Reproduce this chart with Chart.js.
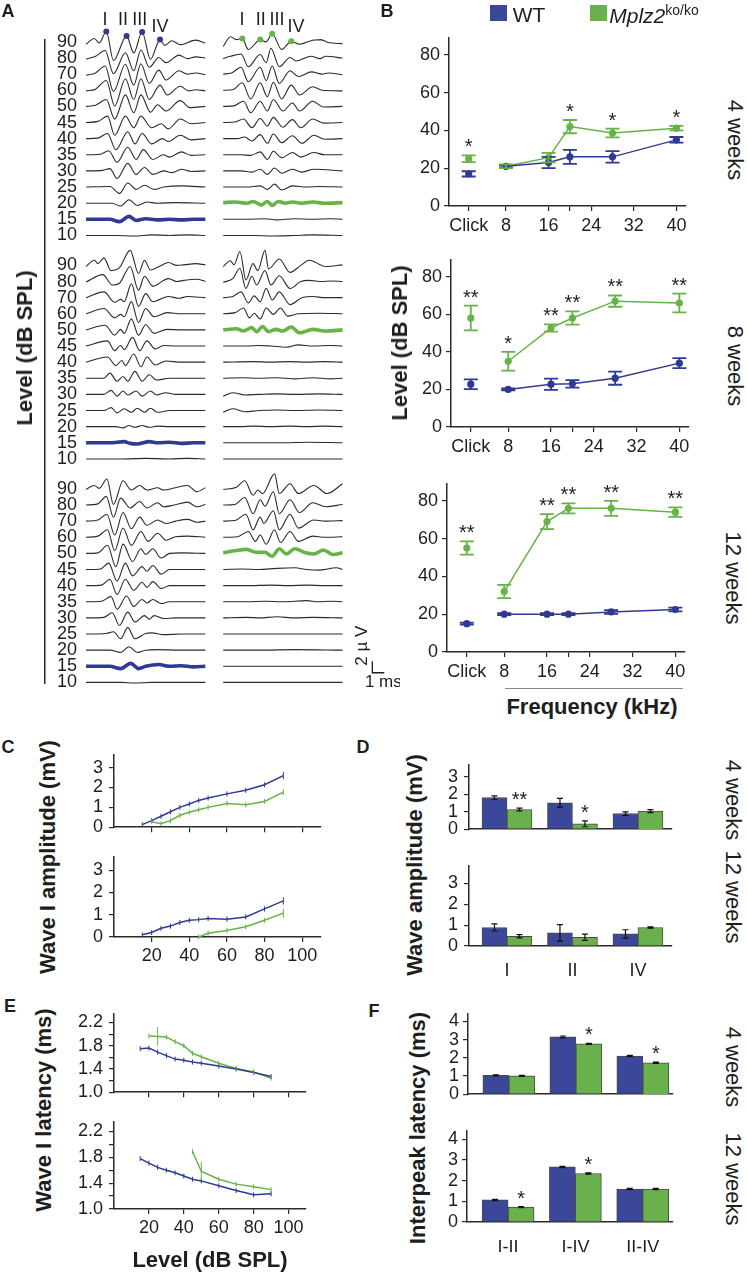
<!DOCTYPE html>
<html>
<head>
<meta charset="utf-8">
<script src="https://cdn.jsdelivr.net/npm/chart.js@4.4.1/dist/chart.umd.min.js"></script>
<style>
  body { margin: 0; width: 747px; height: 1274px; background: #fff; position: relative; overflow: hidden;
         font-family: "Liberation Sans", Arial, sans-serif; color: #1e1e1e; }
  canvas { position: absolute; }
  .lbl { position: absolute; white-space: nowrap; line-height: 1; }
  .sq { position: absolute; width: 17px; height: 16px; }
</style>
</head>
<body>
<script>
// ---------- colours / fonts ----------
const FONT = '"Liberation Sans", Arial, sans-serif';
const BLUE = '#2f3a94', GREEN = '#67b347';
const BLUE_BAR = '#3b4799', GREEN_BAR = '#6ab04d';
const INK = '#1e1e1e', AXIS = '#2a2a2a', TRACE = '#2b2b2b';

// ---------- panel A: ABR traces, [time ms, amplitude uV] extrema ----------
const LEVELS_A = [90, 80, 70, 60, 50, 45, 40, 35, 30, 25, 20, 15, 10];
const A4_WT = [
  [[0,-0.4],[0.7,0.6],[1.1,-0.2],[1.7,1.8],[2.3,-3.2],[3.4,1.0],[4.0,-1.9],[4.7,1.7],[5.4,-3.0],[6.2,0.4],[6.6,-0.6],[7.2,0.2],[7.9,-0.5],[9.2,0.3],[10,-0.2]],
  [[0,-0.2],[0.8,0.3],[1.6,1.3],[2.3,-2.7],[3.3,0.9],[4.0,-2.2],[4.6,1.4],[5.3,-1.6],[6.1,0.1],[6.7,-0.8],[7.8,0.5],[8.5,-0.1],[9.2,0.2],[10,0]],
  [[0,-0.2],[0.8,0.2],[1.6,1.4],[2.3,-3.0],[3.3,1.7],[4.0,-1.9],[4.6,1.8],[5.3,-1.6],[6.1,0.7],[6.7,-1.0],[7.8,0.6],[8.5,0],[9.2,0.2],[10,-0.1]],
  [[0,-0.1],[0.8,0.2],[1.7,1.7],[2.4,-2.7],[3.3,2.0],[4.0,-1.6],[4.6,2.0],[5.3,-1.6],[6.2,0.9],[6.8,-0.8],[7.9,0.7],[8.6,-0.1],[9.2,0.1],[10,-0.1]],
  [[0,0],[0.8,0.2],[1.7,1.2],[2.4,-2.2],[3.3,2.0],[4.0,-1.1],[4.6,2.0],[5.4,-1.0],[6.0,0.3],[6.7,-0.8],[7.9,1.0],[8.7,-0.2],[10,0]],
  [[0,0],[1.0,0.2],[1.8,1.1],[2.4,-2.2],[3.3,1.1],[4.0,-0.9],[4.6,1.1],[5.5,-0.9],[6.3,-0.2],[6.9,-1.1],[7.9,0.6],[8.8,-0.2],[10,0]],
  [[0,0],[1.0,0.1],[1.8,0.9],[2.5,-1.9],[3.5,1.2],[4.1,-0.9],[4.7,0.9],[5.5,-0.9],[6.4,0],[6.9,-0.5],[7.9,0.6],[8.8,-0.2],[10,0]],
  [[0,0],[1.2,0.1],[1.9,0.7],[2.6,-1.3],[3.5,1.3],[4.2,-0.8],[4.8,0.9],[5.6,-0.8],[6.5,0],[7.0,-0.4],[8.0,0.5],[8.8,-0.1],[10,0]],
  [[0,0],[1.4,0.1],[2.0,0.4],[2.6,-1.3],[3.5,1.3],[4.2,-0.6],[4.9,0.6],[5.6,-0.6],[6.5,0],[7.2,-0.3],[8.0,0.3],[8.8,-0.1],[10,0]],
  [[0,0],[2.0,0.1],[2.8,-1.1],[3.5,0.7],[4.2,-0.4],[4.9,0.3],[5.7,-0.4],[6.5,0],[8.0,0.2],[10,0]],
  [[0,0],[2.2,0],[2.9,-0.5],[3.6,0.6],[4.3,-0.4],[5.1,0.2],[6.0,0],[7.5,0.1],[10,0]],
  [[0,0],[2.0,0],[2.8,-0.4],[3.6,0.5],[4.2,-0.2],[5.0,0.1],[6.0,-0.1],[7.0,0],[8.0,-0.1],[9.0,0],[10,0]],
  [[0,0],[2.5,0],[4.0,-0.1],[5.5,0.1],[7.0,0],[8.5,0.1],[10,0]]
];
const A4_KO = [
  [[0,-0.8],[0.6,0.9],[1.1,0.4],[1.6,0.6],[2.1,-1.3],[3.1,0.4],[3.6,0],[4.1,1.4],[4.9,-1.3],[5.7,0.1],[6.4,-0.4],[7.5,0.3],[8.2,0.4],[8.8,-0.1],[10,-0.3]],
  [[0,-0.1],[0.6,0.3],[1.5,0.7],[2.1,-1.5],[3.1,0.6],[3.6,-0.8],[4.0,1.7],[4.7,-1.5],[5.6,0.1],[6.1,-0.5],[7.4,0.3],[8.1,-0.1],[8.6,0.3],[10,0]],
  [[0,0],[0.7,0.2],[1.5,1.2],[2.1,-1.3],[3.1,1.2],[3.6,-1.1],[4.1,1.4],[4.7,-1.6],[5.6,0.6],[6.3,-0.4],[7.4,0.4],[8.3,0],[8.8,0.2],[10,-0.1]],
  [[0,0],[0.8,0.1],[1.6,1.3],[2.3,-1.5],[3.1,1.3],[3.7,-1.1],[4.2,1.4],[4.9,-1.5],[5.7,0.9],[6.4,-0.8],[7.5,0.6],[8.3,0],[10,-0.1]],
  [[0,0],[0.9,0.1],[1.7,0.9],[2.3,-1.1],[3.1,0.9],[3.7,-0.8],[4.2,1.2],[5.0,-0.8],[5.8,0.6],[6.4,-0.8],[7.5,0.9],[8.4,-0.1],[10,0]],
  [[0,0],[1.0,0.1],[1.7,0.6],[2.4,-0.9],[3.1,0.7],[3.7,-0.6],[4.2,0.9],[5.0,-0.8],[5.8,0.5],[6.5,-0.9],[7.5,0.6],[8.4,-0.1],[10,0]],
  [[0,0],[1.2,0],[1.8,0.3],[2.4,-0.4],[3.1,0.7],[3.7,-0.8],[4.2,0.8],[4.9,-0.7],[5.8,0.5],[6.6,-0.8],[7.6,0.6],[8.5,-0.1],[10,0]],
  [[0,0],[1.5,0],[2.3,-0.1],[3.1,0.5],[3.7,-0.8],[4.2,0.6],[4.9,-0.5],[5.8,0.4],[6.5,-0.4],[7.6,0.4],[8.5,0],[10,0]],
  [[0,0],[1.5,0],[2.4,-0.2],[3.1,0.3],[3.7,-0.6],[4.3,0.5],[4.9,-0.4],[5.8,0.3],[6.6,-0.2],[7.6,0.3],[10,0]],
  [[0,0],[2.0,0],[3.1,0.2],[3.7,-0.4],[4.3,0.5],[4.9,-0.5],[5.8,0.2],[7.0,0],[8.0,0.1],[10,0]],
  [[0,0.1],[1.0,0.2],[2.0,0],[2.5,0.3],[3.2,-0.3],[3.7,0.3],[4.1,-0.4],[4.6,0.3],[5.2,0],[5.8,0.2],[6.5,0],[7.5,0.2],[8.5,0],[10,0.1]],
  [[0,0],[2.0,0],[3.5,0.1],[4.5,-0.1],[6,0.1],[7.5,0],[9,0.1],[10,0]],
  [[0,0],[2.5,0],[4.2,-0.1],[6,0],[7.5,0.1],[10,0]]
];
const A8_WT = [
  [[0,-0.2],[0.7,0.9],[1.0,0.3],[1.5,1.3],[2.1,-0.9],[2.8,-0.4],[3.7,2.6],[4.4,-1.4],[4.9,0.9],[5.4,-0.8],[6.3,0],[6.9,0.5],[7.6,0],[8.2,0.1],[9.2,0.3],[10,0.1]],
  [[0,-0.1],[1.4,1.2],[2.2,-0.6],[2.8,-0.3],[3.7,2.6],[4.4,-1.5],[4.9,0.9],[5.6,-0.8],[6.9,0.5],[7.6,0],[8.2,0.2],[9.3,0.4],[10,0]],
  [[0,0],[1.5,1.0],[2.4,-0.8],[2.9,-0.3],[3.2,-0.7],[3.8,2.4],[4.4,-1.5],[5.0,0.7],[5.6,-0.7],[6.9,0.2],[7.8,-0.1],[8.5,0.2],[10,0]],
  [[0,0],[1.5,0.9],[2.4,-0.7],[2.9,-0.1],[3.2,-0.5],[3.8,2.1],[4.4,-1.5],[5.0,0.9],[5.7,-0.5],[6.8,0.2],[8,0],[10,0]],
  [[0,0],[1.6,0.8],[2.4,-0.9],[2.9,0.1],[3.2,-0.6],[3.8,1.9],[4.4,-0.9],[5.0,0.9],[5.7,-0.6],[6.8,0.1],[8,0],[10,0]],
  [[0,0],[1.8,0.9],[2.4,-0.8],[2.9,0.1],[3.2,-0.6],[3.9,1.5],[4.5,-0.8],[5.1,0.9],[5.8,-0.5],[6.5,0.1],[7.5,0],[10,0]],
  [[0,0],[1.8,0.9],[2.5,-0.6],[3.0,0.3],[3.3,-0.6],[4.0,1.4],[4.6,-0.8],[5.1,0.9],[5.8,-0.5],[6.7,0.2],[8,0],[10,0]],
  [[0,0],[1.5,0],[2.0,0.9],[2.6,-0.5],[3.1,0.3],[3.5,-0.5],[4.1,1.2],[4.7,-0.5],[5.3,0.6],[5.9,-0.3],[7,0],[10,0]],
  [[0,0],[1.5,0],[2.1,0.7],[2.6,-0.3],[3.1,0.6],[3.5,-0.1],[4.2,0.6],[4.7,-0.3],[5.4,0.6],[5.9,-0.1],[6.7,0.3],[7.5,0],[10,0]],
  [[0,0],[1.5,0],[2.1,0.5],[2.6,-0.4],[3.2,0.3],[3.8,-0.3],[4.3,0.4],[4.9,-0.3],[5.4,0.4],[6.0,-0.3],[7,0],[10,0]],
  [[0,0],[2.5,0],[3.1,-0.2],[3.6,0.2],[4.1,-0.1],[4.7,0.2],[5.3,-0.1],[6.0,0.1],[7,0],[10,0]],
  [[0,0],[2,0],[3.2,0.2],[3.7,-0.1],[4.3,-0.2],[5.3,0.2],[6,0],[7,0.1],[8,-0.1],[9,0],[10,0]],
  [[0,0],[3,0],[5,0.1],[7,0],[8.5,0.1],[10,0]]
];
const A8_KO = [
  [[0,-0.2],[0.6,0.8],[0.9,0.1],[1.4,2.4],[1.9,-2.5],[2.5,0.3],[2.9,-0.9],[3.5,2.6],[3.8,-0.6],[4.7,1.1],[5.6,-1.2],[6.5,0],[7.2,0.9],[8.6,-0.2],[10,0.1]],
  [[0,-0.1],[0.8,0.5],[1.4,2.3],[1.9,-1.2],[2.4,0.9],[2.8,-0.6],[3.5,1.9],[4.0,-0.6],[4.7,1.0],[5.6,-1.2],[6.5,0],[7.2,0.2],[8.3,0],[9,0.1],[10,0]],
  [[0,0],[0.8,0.2],[1.5,1.0],[2.1,-0.9],[2.6,0.3],[3.1,-0.7],[3.6,1.6],[4.1,-0.4],[4.7,1.0],[5.6,-1.2],[6.6,0],[7.5,0.2],[8.5,0],[10,0]],
  [[0,0],[1.0,0.2],[1.7,1.0],[2.2,-0.7],[2.6,0.1],[3.1,-0.9],[3.6,1.0],[4.2,-0.1],[4.8,1.0],[5.4,-0.4],[6.3,0],[8,0.1],[10,0]],
  [[0,0],[1.1,0.2],[1.7,-0.2],[2.4,0.4],[2.8,-0.3],[3.3,0.6],[3.8,-0.3],[4.4,0.1],[5.0,-0.2],[5.7,0.5],[6.4,-0.5],[7.5,0.1],[8.6,-0.2],[10,0]],
  [[0,0],[2,0],[3,0.1],[4,0],[5.3,-0.2],[6.3,0.2],[7.5,0],[9,0.1],[10,0]],
  [[0,0],[2.5,0.1],[4,0],[5.5,0.1],[7,0],[8.5,0.1],[10,0]],
  [[0,0],[1.5,0.1],[3,0],[4.5,0.1],[6,-0.1],[7.5,0.1],[9,-0.1],[10,0]],
  [[0,-0.3],[0.8,0.3],[1.8,-0.1],[3,0],[4.5,0.1],[6,0],[8,0.1],[10,0]],
  [[0,-0.3],[0.8,0.3],[1.8,-0.2],[3,0],[4.5,0.1],[6,0],[8,0.1],[10,0]],
  [[0,0],[1.5,0],[2.5,0.1],[4,0],[5.5,0.1],[7,0],[8.5,0.1],[10,0]],
  [[0,0],[3,0],[5,0],[7,0.1],[10,0]],
  [[0,0],[3,0],[6,0],[10,0]]
];
const A12_WT = [
  [[0,-0.1],[0.7,0.6],[1.1,0.1],[1.75,1.7],[2.3,-2.7],[3.1,1.4],[3.8,-0.2],[4.5,0.6],[5.1,-0.2],[6.0,0.2],[6.5,-0.2],[7.5,0.2],[8.5,0.6],[9.3,-0.5],[10,0.2]],
  [[0,0],[1.0,0.2],[1.7,1.5],[2.3,-2.1],[2.9,1.2],[3.7,-0.5],[4.5,0.6],[5.1,-0.5],[6.0,0.4],[6.5,-0.3],[7.4,0],[8.5,0.5],[9.3,-0.3],[10,0.1]],
  [[0,0],[1.0,0.2],[1.75,1.2],[2.4,-2.4],[3.1,1.5],[3.8,-1.3],[4.5,0.7],[5.1,-0.7],[6.0,0.2],[6.7,-0.4],[7.5,0],[8.5,0.3],[9.3,-0.2],[10,0]],
  [[0,0],[1.0,0.2],[1.8,1.3],[2.4,-2.3],[3.1,1.6],[3.8,-1.4],[4.6,1.0],[5.2,-0.7],[6.0,0.7],[6.7,-0.5],[7.5,0.1],[8.5,0.2],[10,0]],
  [[0,0],[1.0,0.1],[1.8,1.4],[2.5,-2.3],[3.1,1.6],[3.9,-1.4],[4.6,0.8],[5.0,-0.2],[5.6,0.8],[6.3,-0.8],[7.0,0],[8,0.1],[10,0]],
  [[0,0],[1.2,0.1],[1.9,1.1],[2.6,-2.0],[3.3,1.1],[3.9,-1.1],[4.7,0.5],[5.1,-0.3],[5.6,0.7],[6.3,-0.8],[7.0,0],[10,0]],
  [[0,0],[1.3,0.1],[2.0,1.1],[2.6,-1.5],[3.3,1.1],[4.0,-0.8],[4.7,0.6],[5.1,-0.3],[5.6,0.7],[6.3,-0.5],[7,0],[10,0]],
  [[0,0],[1.3,0.1],[2.1,0.9],[2.6,-1.3],[3.4,1.0],[4.0,-0.8],[4.7,0.4],[5.1,-0.2],[5.6,0.4],[6.3,-0.3],[7,0],[10,0]],
  [[0,0],[1.5,0.1],[2.2,0.9],[2.8,-1.3],[3.5,1.0],[4.1,-0.7],[4.9,0.4],[5.3,-0.2],[5.7,0.4],[6.5,-0.1],[7.5,0],[10,0]],
  [[0,0],[1.7,0.1],[2.3,0.4],[2.9,-0.8],[3.5,1.1],[4.1,-0.8],[5.0,0.1],[5.5,0.2],[6.5,-0.1],[8,0],[10,0]],
  [[0,0],[2.0,0],[2.9,-0.4],[3.6,0.6],[4.3,-0.4],[5.0,0],[6.0,0.1],[8,0],[10,0]],
  [[0,0],[2,0],[2.9,-0.4],[3.75,0.5],[4.4,-0.4],[5.0,0],[6.1,0.3],[7,0],[8,0.1],[9,-0.1],[10,0]],
  [[0,0],[3,0],[4,-0.1],[5.5,0],[7,0],[10,0]]
];
const A12_KO = [
  [[0,-0.1],[1.1,0.3],[1.8,1.4],[2.5,-1.1],[2.9,-0.2],[3.3,-0.8],[4.3,2.6],[4.7,-0.8],[5.6,0.9],[6.3,-0.8],[7.6,0.6],[8.7,-0.8],[10,0.9]],
  [[0,0],[1.0,0.1],[1.8,1.3],[2.5,-1.5],[3.1,0.9],[3.5,-0.2],[4.2,2.3],[4.7,-1.5],[5.6,0.9],[6.4,-1.3],[7.5,0.4],[8.6,-0.3],[10,0.1]],
  [[0,0],[1.0,0.1],[1.9,1.2],[2.5,-1.5],[3.1,0.7],[3.4,-0.4],[4.2,1.8],[4.7,-1.5],[5.6,1.2],[6.3,-1.2],[7.6,0.2],[8.5,0],[10,0.1]],
  [[0,0],[1.2,0.1],[2.1,1.0],[2.7,-0.7],[3.1,0.4],[3.6,-1.2],[4.3,1.3],[4.8,-0.9],[5.6,1.0],[6.3,-0.7],[7.5,0.2],[8.5,0],[10,0.1]],
  [[0,0.1],[1.1,0.5],[1.9,0.7],[2.8,0.2],[3.5,0.2],[4.1,-0.5],[4.7,0.8],[5.3,-0.1],[6.0,0.8],[6.9,0.1],[7.6,-0.1],[8.4,0.6],[9.2,-0.2],[10,0.1]],
  [[0,0],[1.5,0.1],[3,0],[4.5,0.2],[6,0.3],[7,0],[8,-0.1],[9.5,0.3],[10,0]],
  [[0,0],[2,0],[4,0.1],[5.5,0],[7,0.1],[8.5,0],[10,0]],
  [[0,0],[2,0],[3.5,0.1],[5,0],[7,0.2],[8,0],[9,0.1],[10,0]],
  [[0,0],[2,0.1],[3,0],[4.5,0.2],[6,0],[7.5,0.1],[10,0]],
  [[0,0],[3,0],[5,0],[7,0],[10,0]],
  [[0,0],[3,0],[6,0.1],[10,0]],
  [[0,0],[4,0],[7,0],[10,0]],
  [[0,0],[4,0],[7,0],[10,0]]
];
const A_GROUPS = [[A4_WT, A4_KO], [A8_WT, A8_KO], [A12_WT, A12_KO]];
const THRESH_WT = [15, 15, 15];     // highlighted threshold trace per age
const THRESH_KO = [20, 50, 50];
const ROMAN = ['I', 'II', 'III', 'IV'];
const PEAK_T_WT = [1.7, 3.4, 4.7, 6.2];     // marked peaks on the 90 dB traces
const PEAK_T_KO = [1.6, 3.1, 4.1, 5.7];
const ROMAN_T_WT = [1.6, 3.1, 4.5, 6.2];    // where the peak names sit
const ROMAN_T_KO = [1.57, 3.15, 4.5, 6.1];

// ---------- panel B: thresholds (dB SPL), Click then FREQS ----------
const FREQS = [8, 16, 20, 28, 40];
const B_XTICKS = [1, 8, 16, 20, 24, 32, 40];
const B_XLABELS = ['Click', '8', '16', '', '24', '32', '40'];
const B_YTICKS = [0, 20, 40, 60, 80];
const B_WT_4W = [17, 21, 23, 26, 26, 35];
const B_WT_4W_SEM = [1.4, 0.6, 3, 3.7, 3, 1.5];
const B_KO_4W = [25, 21, 25.6, 42, 38.6, 41.2];
const B_KO_4W_SEM = [1.8, 1, 2.5, 3.5, 2.3, 1.2];
const B_SIG_4W = ['*', '', '', '*', '*', '*'];
const B_WT_8W = [22.8, 20, 22.8, 23, 26, 34];
const B_WT_8W_SEM = [2.6, 0.5, 3, 2, 3.5, 2.7];
const B_KO_8W = [58, 35, 52.7, 58, 67, 66];
const B_KO_8W_SEM = [6.6, 5, 1.9, 3.5, 3, 5];
const B_SIG_8W = ['**', '*', '**', '**', '**', '**'];
const B_WT_12W = [15, 20, 20, 20, 21.2, 22.5];
const B_WT_12W_SEM = [0.5, 0.5, 0.5, 0.5, 1, 1];
const B_KO_12W = [55, 32, 69, 76, 76, 74];
const B_KO_12W_SEM = [3.5, 3.5, 4, 2.6, 4, 2.5];
const B_SIG_12W = ['**', '', '**', '**', '**', '**'];

// ---------- panel C: wave I amplitude ----------
const LEV_X_TICKS = [20, 40, 60, 80, 100];
const C_YTICKS = [0, 1, 2, 3];
const C_WT_4W_LEV = [15, 20, 25, 30, 35, 40, 45, 50, 60, 70, 80, 90];
const C_WT_4W = [0.13, 0.33, 0.55, 0.78, 1.0, 1.17, 1.35, 1.47, 1.68, 1.86, 2.14, 2.6];
const C_WT_4W_SEM = [0.03, 0.05, 0.05, 0.05, 0.05, 0.05, 0.06, 0.06, 0.08, 0.08, 0.1, 0.18];
const C_KO_4W_LEV = [20, 25, 30, 35, 40, 45, 50, 60, 70, 80, 90];
const C_KO_4W = [0.28, 0.18, 0.33, 0.6, 0.75, 0.88, 1.0, 1.2, 1.13, 1.3, 1.77];
const C_KO_4W_SEM = [0.03, 0.03, 0.05, 0.05, 0.05, 0.05, 0.05, 0.06, 0.06, 0.08, 0.15];
const C_WT_12W_LEV = [15, 20, 25, 30, 35, 40, 45, 50, 60, 70, 80, 90];
const C_WT_12W = [0.1, 0.2, 0.39, 0.49, 0.65, 0.75, 0.78, 0.83, 0.8, 0.9, 1.26, 1.62];
const C_WT_12W_SEM = [0.02, 0.03, 0.03, 0.04, 0.04, 0.05, 0.06, 0.08, 0.12, 0.1, 0.12, 0.16];
const C_KO_12W_LEV = [45, 50, 60, 70, 80, 90];
const C_KO_12W = [0.0, 0.17, 0.29, 0.46, 0.75, 1.07];
const C_KO_12W_SEM = [0.02, 0.05, 0.05, 0.06, 0.1, 0.2];

// ---------- panel D: wave amplitudes ----------
const WAVES = ['I', 'II', 'IV'];
const D_YTICKS = [0, 1, 2, 3];
const D_WT_4W = [1.82, 1.52, 0.9], D_WT_4W_SEM = [0.1, 0.25, 0.1];
const D_KO_4W = [1.13, 0.31, 1.04], D_KO_4W_SEM = [0.08, 0.17, 0.09];
const D_SIG_4W = ['**', '*', ''];
const D_WT_12W = [0.89, 0.63, 0.58], D_WT_12W_SEM = [0.17, 0.4, 0.2];
const D_KO_12W = [0.47, 0.42, 0.89], D_KO_12W_SEM = [0.08, 0.15, 0.03];
const D_SIG_12W = ['', '', ''];

// ---------- panel E: wave I latency ----------
const E_YTICKS = [1.0, 1.2, 1.4, 1.6, 1.8, 2.0, 2.2];
const E_YLABELS = ['1.0', '', '1.4', '', '1.8', '', '2.2'];
const E_WT_4W_LEV = [15, 20, 25, 30, 35, 40, 45, 50, 60, 70, 80, 90];
const E_WT_4W = [1.75, 1.76, 1.69, 1.63, 1.57, 1.55, 1.52, 1.50, 1.45, 1.40, 1.34, 1.27];
const E_WT_4W_SEM = [0.02, 0.03, 0.02, 0.02, 0.02, 0.02, 0.02, 0.02, 0.02, 0.02, 0.02, 0.02];
const E_KO_4W_LEV = [20, 25, 30, 35, 40, 45, 50, 60, 70, 80, 90];
const E_KO_4W = [1.97, 1.96, 1.95, 1.87, 1.80, 1.67, 1.61, 1.50, 1.41, 1.35, 1.24];
const E_KO_4W_SEM = [0.02, 0.16, 0.04, 0.04, 0.04, 0.03, 0.02, 0.02, 0.02, 0.02, 0.02];
const E_WT_12W_LEV = [15, 20, 25, 30, 35, 40, 45, 50, 60, 70, 80, 90];
const E_WT_12W = [1.78, 1.71, 1.645, 1.6, 1.56, 1.51, 1.46, 1.435, 1.36, 1.285, 1.22, 1.235];
const E_WT_12W_SEM = [0.02, 0.02, 0.02, 0.02, 0.02, 0.02, 0.02, 0.02, 0.02, 0.02, 0.02, 0.02];
const E_KO_12W_LEV = [45, 50, 60, 70, 80, 90];
const E_KO_12W = [1.89, 1.585, 1.46, 1.385, 1.345, 1.3];
const E_KO_12W_SEM = [0.02, 0.14, 0.02, 0.02, 0.02, 0.02];

// ---------- panel F: interpeak latency ----------
const PAIRS = ['I-II', 'I-IV', 'II-IV'];
const F_YTICKS = [0, 1, 2, 3, 4];
const F_WT_4W = [1.04, 3.15, 2.1], F_WT_4W_SEM = [0.03, 0.05, 0.03];
const F_KO_4W = [1.01, 2.77, 1.73], F_KO_4W_SEM = [0.03, 0.03, 0.03];
const F_SIG_4W = ['', '*', '*'];
const F_WT_12W = [1.07, 2.67, 1.6], F_WT_12W_SEM = [0.03, 0.03, 0.03];
const F_KO_12W = [0.72, 2.35, 1.6], F_KO_12W_SEM = [0.03, 0.03, 0.03];
const F_SIG_12W = ['*', '*', ''];

// ---------- plugins ----------
const errPlugin = {
  id: 'errs',
  afterDatasetsDraw(chart) {
    const ctx = chart.ctx, ys = chart.scales.y;
    chart.data.datasets.forEach((ds, i) => {
      if (!ds.sem) return;
      const meta = chart.getDatasetMeta(i);
      ctx.save();
      ctx.strokeStyle = ds.semColor || ds.borderColor;
      ctx.lineWidth = ds.semWidth || 1;
      meta.data.forEach((el, j) => {
        const v = ds.data[j].y, e = ds.sem[j], mh = ds.semMin || 0, cw = ds.capW || 0;
        const hi = Math.min(ys.getPixelForValue(v + e), el.y - mh);
        const lo = Math.max(ys.getPixelForValue(v - e), el.y + mh);
        ctx.beginPath();
        ctx.moveTo(el.x, hi); ctx.lineTo(el.x, lo);
        if (cw) {
          ctx.moveTo(el.x - cw, hi); ctx.lineTo(el.x + cw, hi);
          ctx.moveTo(el.x - cw, lo); ctx.lineTo(el.x + cw, lo);
        }
        ctx.stroke();
        const s = ds.stars && ds.stars[j];
        if (s) {
          ctx.fillStyle = INK; ctx.font = '20px ' + FONT;
          ctx.textAlign = 'center'; ctx.textBaseline = 'alphabetic';
          ctx.fillText(s, el.x, hi - 2);
        }
      });
      ctx.restore();
    });
  }
};

const COL_SHIFT = 11.5;   // ms between left (WT) and right (KO) trace columns
const A_TOP = 110.67, A_ROW = 2.783, A_GROUP = 38.57;   // baseline layout in uV units
const aExtras = {
  id: 'aExtras',
  afterDraw(chart) {
    const {ctx, scales: {x, y}, chartArea} = chart;
    ctx.save();
    ctx.fillStyle = INK; ctx.strokeStyle = INK;
    ctx.font = '18px ' + FONT; ctx.textAlign = 'center'; ctx.textBaseline = 'middle';
    [[ROMAN_T_WT, 0], [ROMAN_T_KO, COL_SHIFT]].forEach(([ts, dx]) => {
      ts.forEach((t, k) => ctx.fillText(ROMAN[k], x.getPixelForValue(t + dx), chartArea.top - (k === 3 ? 13 : 20)));
    });
    // peak markers on the 4-week 90 dB traces
    [[PEAK_T_WT, 0, BLUE], [PEAK_T_KO, 1, GREEN]].forEach(([ts, c, col]) => {
      const tr = A_GROUPS[0][c][0];
      ctx.fillStyle = col;
      ts.forEach(t => {
        const p = tr.find(q => q[0] === t);
        ctx.beginPath();
        ctx.arc(x.getPixelForValue(t + c * COL_SHIFT), y.getPixelForValue(p[1] + A_TOP), 3, 0, Math.PI * 2);
        ctx.fill();
      });
    });
    // scale bar 2 uV / 1 ms
    ctx.fillStyle = INK;
    const x0 = x.getPixelForValue(24.0), y0 = y.getPixelForValue(1.8);
    const x1 = x.getPixelForValue(25.0), y1 = y.getPixelForValue(3.8);
    ctx.lineWidth = 1.3;
    ctx.beginPath(); ctx.moveTo(x0, y1); ctx.lineTo(x0, y0); ctx.lineTo(x1, y0); ctx.stroke();
    ctx.font = '17px ' + FONT;
    ctx.fillText('1 ms', x0 + 11, y0 + 10);
    ctx.translate(x0 - 10, y0 - 27); ctx.rotate(-Math.PI / 2);
    ctx.fillText('2 \u00b5 V', 0, 0);
    ctx.restore();
  }
};

// ---------- helpers ----------
function mk(area, yw, xh, type, datasets, scales, plugins, padT = 14, padR = 14) {
  const w = area[2] - area[0] + yw + padR, h = area[3] - area[1] + padT + xh;
  const c = document.createElement('canvas');
  c.width = w; c.height = h;
  Object.assign(c.style, {left: (area[0] - yw) + 'px', top: (area[1] - padT) + 'px', width: w + 'px', height: h + 'px'});
  document.body.appendChild(c);
  scales.x.afterFit = s => { s.height = xh; };
  scales.y.afterFit = s => { s.width = yw; };
  return new Chart(c, {
    type, data: {datasets},
    options: {
      responsive: false, maintainAspectRatio: false, devicePixelRatio: 1, animation: false,
      layout: {autoPadding: false, padding: {top: padT, right: padR, left: 0, bottom: 0}},
      scales,
      plugins: {legend: {display: false}, tooltip: {enabled: false}}
    },
    plugins: plugins || [errPlugin]
  });
}

function axis(min, max, ticks, labels, o = {}) {
  return {
    type: 'linear', min, max, offset: false,
    afterBuildTicks: s => { s.ticks = ticks.map(v => ({value: v})); },
    grid: {display: o.marks !== false, drawOnChartArea: false, offset: false, tickLength: 5, color: AXIS, lineWidth: 1.2},
    border: {display: true, color: AXIS, width: 1.5},
    ticks: {display: o.labels !== false, padding: o.pad ?? 4, autoSkip: false, maxRotation: 0,
            font: {size: 18, family: FONT}, color: INK,
            callback: (v, i) => labels ? labels[i] : String(v)}
  };
}

function series(color, xs, ys, sem, o = {}) {
  return Object.assign({
    data: xs.map((x, i) => ({x, y: ys[i]})),
    borderColor: color, backgroundColor: color,
    borderWidth: 1.5, pointRadius: 0, showLine: true, sem
  }, o);
}

function text(str, cx, cy, o = {}) {
  const d = document.createElement('div');
  d.className = 'lbl';
  d.innerHTML = str;
  Object.assign(d.style, {
    left: cx + 'px', top: cy + 'px', fontSize: (o.size || 22) + 'px',
    fontWeight: o.bold ? 'bold' : 'normal',
    transform: `translate(-50%,-50%) rotate(${o.rot || 0}deg)`
  });
  document.body.appendChild(d);
}

// ---------- panel A ----------
const aSets = [], aTicks = [];
A_GROUPS.forEach((cols, g) => {
  LEVELS_A.forEach((lev, r) => {
    const base = A_TOP - r * A_ROW - g * A_GROUP;
    aTicks.push({value: base, label: String(lev)});
    cols.forEach((traces, c) => {
      const thick = lev === (c === 0 ? THRESH_WT[g] : THRESH_KO[g]);
      aSets.push({
        data: traces[r].map(([t, v]) => ({x: t + c * COL_SHIFT, y: v + base})),
        borderColor: thick ? (c === 0 ? BLUE : GREEN) : TRACE,
        borderWidth: thick ? 3.6 : 1.1,
        pointRadius: 0, cubicInterpolationMode: 'monotone', clip: false, order: thick ? 0 : 1
      });
    });
  });
});
aTicks.sort((a, b) => a.value - b.value);
mk([45, 40, 390, 706], 45, 0, 'line', aSets, {
  x: {type: 'linear', min: -3.44, max: 25.48, display: false},
  y: {type: 'linear', min: 0, max: 111,
      afterBuildTicks: s => { s.ticks = aTicks.map(t => ({value: t.value})); },
      grid: {display: false}, border: {display: true, color: AXIS, width: 1.5},
      ticks: {mirror: true, padding: 12, autoSkip: false, font: {size: 18, family: FONT}, color: INK,
              callback: (v, i) => aTicks[i].label}}
}, [aExtras], 40, 10);

// ---------- panel B ----------
function bSets(wt, wtSem, ko, koSem, sig) {
  const pt = {pointRadius: 3.6, pointBorderWidth: 0, borderWidth: 1.5, semWidth: 1.8, capW: 7};
  return [
    series(BLUE, [B_XTICKS[0]], wt.slice(0, 1), wtSem.slice(0, 1), Object.assign({}, pt, {showLine: false})),
    series(BLUE, FREQS, wt.slice(1), wtSem.slice(1), pt),
    series(GREEN, [B_XTICKS[0]], ko.slice(0, 1), koSem.slice(0, 1), Object.assign({}, pt, {showLine: false, stars: sig.slice(0, 1)})),
    series(GREEN, FREQS, ko.slice(1), koSem.slice(1), Object.assign({}, pt, {stars: sig.slice(1)}))
  ];
}
const bScales = () => ({
  x: axis(-2.7, 41.8, B_XTICKS, B_XLABELS, {pad: 4}),
  y: axis(0, 89, B_YTICKS, null, {pad: 4})
});
mk([449, 37, 686, 206], 40, 32, 'line', bSets(B_WT_4W, B_WT_4W_SEM, B_KO_4W, B_KO_4W_SEM, B_SIG_4W), bScales());
mk([451, 259, 689, 427], 40, 32, 'line', bSets(B_WT_8W, B_WT_8W_SEM, B_KO_8W, B_KO_8W_SEM, B_SIG_8W), bScales());
mk([447, 483, 685, 652], 40, 32, 'line', bSets(B_WT_12W, B_WT_12W_SEM, B_KO_12W, B_KO_12W_SEM, B_SIG_12W), bScales());

// ---------- panel C ----------
const lvOpt = {semMin: 2.5, semWidth: 1};
mk([114, 752, 321, 836], 40, 8, 'line', [
  series(BLUE, C_WT_4W_LEV, C_WT_4W, C_WT_4W_SEM, lvOpt),
  series(GREEN, C_KO_4W_LEV, C_KO_4W, C_KO_4W_SEM, lvOpt)
], {x: axis(0, 110, LEV_X_TICKS, null, {labels: false}), y: axis(0, 3.65, C_YTICKS, null, {pad: 6})});
mk([114, 854, 321, 937], 40, 30, 'line', [
  series(BLUE, C_WT_12W_LEV, C_WT_12W, C_WT_12W_SEM, lvOpt),
  series(GREEN, C_KO_12W_LEV, C_KO_12W, C_KO_12W_SEM, lvOpt)
], {x: axis(0, 110, LEV_X_TICKS, null, {pad: 3}), y: axis(0, 3.6, C_YTICKS, null, {pad: 6})});

// ---------- panel E ----------
mk([114, 1011, 306, 1101], 45, 8, 'line', [
  series(BLUE, E_WT_4W_LEV, E_WT_4W, E_WT_4W_SEM, lvOpt),
  series(GREEN, E_KO_4W_LEV, E_KO_4W, E_KO_4W_SEM, lvOpt)
], {x: axis(0, 110, LEV_X_TICKS, null, {labels: false}), y: axis(1.0, 2.35, E_YTICKS, E_YLABELS, {pad: 6})});
mk([114, 1119, 306, 1209], 45, 30, 'line', [
  series(BLUE, E_WT_12W_LEV, E_WT_12W, E_WT_12W_SEM, lvOpt),
  series(GREEN, E_KO_12W_LEV, E_KO_12W, E_KO_12W_SEM, lvOpt)
], {x: axis(0, 110, LEV_X_TICKS, null, {pad: 3}), y: axis(1.0, 2.35, E_YTICKS, E_YLABELS, {pad: 6})});

// ---------- panels D and F (bars) ----------
function barSets(wt, wtSem, ko, koSem, sig, thick) {
  const o = {barThickness: thick, borderWidth: 1, borderColor: '#4a4a4a', semColor: '#111', semWidth: 1.2, capW: 3};
  return [
    Object.assign({data: wt.map((v, i) => ({x: i, y: v})), backgroundColor: BLUE_BAR, sem: wtSem}, o),
    Object.assign({data: ko.map((v, i) => ({x: i, y: v})), backgroundColor: GREEN_BAR, sem: koSem, stars: sig}, o)
  ];
}
const catX = (min, max, labels, show, pad) =>
  axis(min, max, labels.map((_, i) => i), labels, {marks: false, labels: show, pad});
mk([469, 762, 672, 842], 35, 4, 'bar', barSets(D_WT_4W, D_WT_4W_SEM, D_KO_4W, D_KO_4W_SEM, D_SIG_4W, 25),
  {x: catX(-0.58, 2.52, WAVES, false, 9), y: axis(0, 3.7, D_YTICKS, null, {pad: 6})});
mk([469, 863, 672, 946], 35, 30, 'bar', barSets(D_WT_12W, D_WT_12W_SEM, D_KO_12W, D_KO_12W_SEM, D_SIG_12W, 25),
  {x: catX(-0.58, 2.52, WAVES, true, 9), y: axis(0, 3.85, D_YTICKS, null, {pad: 6})});
mk([468, 1013, 673, 1105], 35, 4, 'bar', barSets(F_WT_4W, F_WT_4W_SEM, F_KO_4W, F_KO_4W_SEM, F_SIG_4W, 26),
  {x: catX(-0.61, 2.45, PAIRS, false, 10), y: axis(0, 4.42, F_YTICKS, null, {pad: 4})});
mk([467, 1130, 673, 1222], 35, 30, 'bar', barSets(F_WT_12W, F_WT_12W_SEM, F_KO_12W, F_KO_12W_SEM, F_SIG_12W, 26),
  {x: catX(-0.61, 2.45, PAIRS, true, 10), y: axis(0, 4.42, F_YTICKS, null, {pad: 4})});

// ---------- text, legend ----------
[['A', 8, 11], ['B', 387, 11], ['C', 8, 747], ['D', 363, 747], ['E', 10, 1006], ['F', 374, 1011]]
  .forEach(([s, x, y]) => text(s, x, y, {size: 18, bold: true}));

text('Level (dB SPL)', 25, 348, {bold: true, rot: -90});
text('Level (dB SPL)', 400, 343, {bold: true, rot: -90});
text('Frequency (kHz)', 592, 707, {bold: true});
text('Wave I amplitude (mV)', 48, 857, {bold: true, rot: -90});
text('Wave amplitude (mV)', 415, 865, {bold: true, rot: -90});
text('Wave I latency (ms)', 44, 1110, {bold: true, rot: -90});
text('Interpeak latency (ms)', 418, 1128, {bold: true, rot: -90});
text('Level (dB SPL)', 210, 1260, {bold: true});

[['4 weeks', 735, 140], ['8 weeks', 735, 366], ['12 weeks', 733, 578],
 ['4 weeks', 733, 800], ['12 weeks', 733, 897], ['4 weeks', 733, 1067], ['12 weeks', 733, 1179]]
  .forEach(([s, x, y]) => text(s, x, y, {rot: 90}));

const rule = document.createElement('div');
Object.assign(rule.style, {position: 'absolute', left: '505px', top: '688px', width: '178px', height: '1px', background: '#888'});
document.body.appendChild(rule);

[[BLUE_BAR, 490], [GREEN_BAR, 590]].forEach(([col, x]) => {
  const s = document.createElement('div');
  s.className = 'sq';
  Object.assign(s.style, {left: x + 'px', top: '5px', background: col});
  document.body.appendChild(s);
});
text('WT', 529, 14, {size: 21});
text('<i>Mplz2</i><sup style="font-size:14px;vertical-align:8px">ko/ko</sup>', 654, 14, {size: 21});
</script>
</body>
</html>
